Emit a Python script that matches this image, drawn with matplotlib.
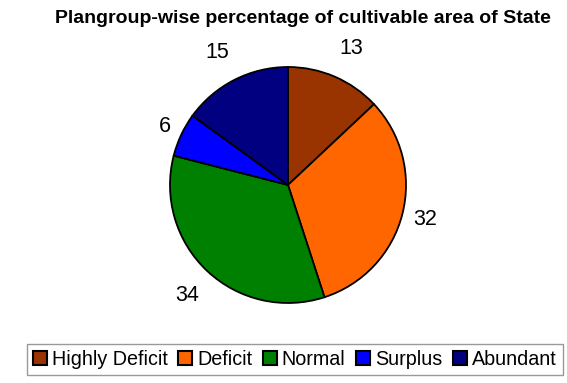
import numpy as np
import matplotlib
matplotlib.use("Agg")
import matplotlib.pyplot as plt

plt.rcParams['font.family'] = ['Liberation Sans', 'DejaVu Sans']

categories = ["Highly Deficit", "Deficit", "Normal", "Surplus", "Abundant"]
values = [13, 32, 34, 6, 15]
colors = ["#993300", "#FF6600", "#008000", "#0000FF", "#000080"]
title = "Plangroup-wise percentage of cultivable area of State"

W, H = 567, 383
fig = plt.figure(figsize=(W / 100, H / 100), dpi=100)
cx, cy, r = 288, 185, 118
ax = fig.add_axes([(cx - r) / W, (H - cy - r) / H, 2 * r / W, 2 * r / H])
wedges, _ = ax.pie(values, colors=colors, startangle=90, counterclock=False,
                   radius=1, wedgeprops=dict(edgecolor="black", linewidth=1.3))
ax.set_xlim(-1, 1)
ax.set_ylim(-1, 1)
ax.set_aspect('equal')
ax.axis('off')

for w, v in zip(wedges, values):
    ang = np.deg2rad((w.theta1 + w.theta2) / 2)
    c, s = np.cos(ang), np.sin(ang)
    ha = 'left' if c > 0.3 else ('right' if c < -0.3 else 'center')
    va = 'bottom' if s > 0.5 else ('top' if s < -0.5 else 'center')
    ax.text(1.1 * c, 1.16 * s, str(v), ha=ha, va=va, fontsize=15.5, clip_on=False)

fig.text(0.535, 0.952, title, ha='center', va='center', fontsize=14, fontweight='bold')

leg = fig.legend(wedges, categories, loc='center', bbox_to_anchor=(0.52, 0.061),
                 ncol=5, fontsize=14.2, frameon=True, fancybox=False,
                 edgecolor='#808080', handlelength=0.7, handleheight=0.7,
                 handletextpad=0.25, columnspacing=0.55, borderpad=0.3,
                 borderaxespad=0)
leg.get_frame().set_linewidth(1.0)
for h in leg.legend_handles:
    h.set_edgecolor('black')
    h.set_linewidth(1.5)

fig.savefig("out.png", dpi=100)
